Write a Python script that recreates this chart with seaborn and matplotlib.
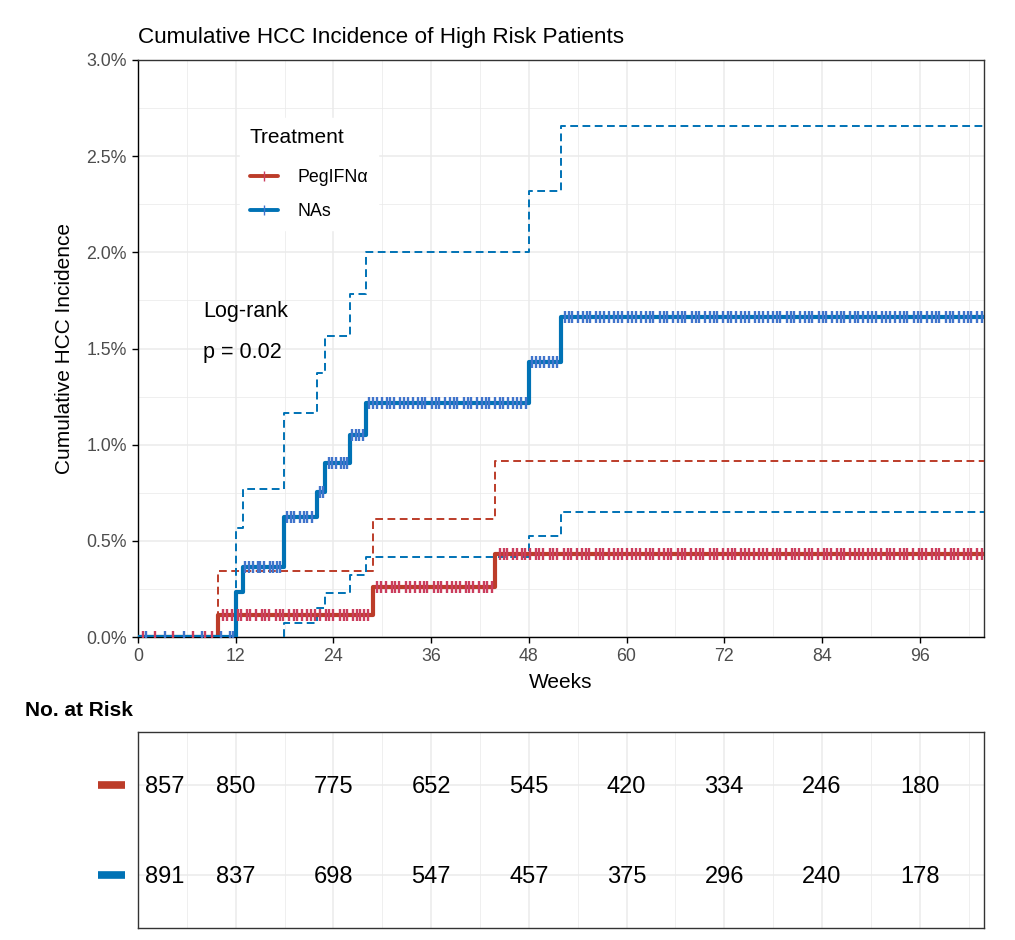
"""Cumulative HCC incidence curves with a number-at-risk table."""

import numpy as np
import pandas as pd
import matplotlib
matplotlib.use("Agg")
import matplotlib.pyplot as plt
import matplotlib.transforms as mtransforms
from matplotlib.lines import Line2D
from matplotlib.ticker import MultipleLocator, FuncFormatter
import seaborn as sns

sns.set_theme(style="white")
plt.rcParams["font.family"] = ["Liberation Sans", "DejaVu Sans"]
plt.rcParams["text.color"] = "black"
plt.rcParams["axes.labelcolor"] = "black"

# ---- data (weeks, cumulative incidence in %) ----
groups = ["PegIFNα", "NAs"]
line_colors = {"PegIFNα": "#BC3C29", "NAs": "#0072B5"}
censor_colors = {"PegIFNα": "#CB3D5D", "NAs": "#4074CC"}
max_week = 103.9

red_times = [0, 9.8, 28.8, 43.9]
red_est = [0, 0.115, 0.26, 0.43]
red_upper = [0, 0.343, 0.612, 0.915]
red_lower = [0, 0, 0, 0]

blue_times = [0, 12.0, 12.9, 17.9, 22.0, 23.0, 26.0, 28.0, 48.0, 51.9]
blue_est = [0, 0.235, 0.362, 0.625, 0.755, 0.905, 1.05, 1.215, 1.43, 1.662]
blue_upper = [0, 0.567, 0.77, 1.165, 1.373, 1.565, 1.785, 2.0, 2.32, 2.657]
blue_lower = [0, 0, 0, 0.073, 0.15, 0.23, 0.32, 0.415, 0.525, 0.65]

red_censor = [
    0.6, 2.1, 4.3, 6.7, 8.2, 9.1,
    10.4, 10.9, 11.5, 12.3, 12.7, 13.4, 13.8, 14.5, 15.2, 15.6, 16.1, 16.9, 17.4, 17.8,
    18.6, 19.1, 19.5, 20.2, 20.8, 21.3, 21.7, 22.4, 23.1, 23.5, 24.0, 24.8, 25.3, 25.7,
    26.4, 26.9, 27.3, 27.8, 28.3,
    29.4, 29.8, 30.5, 31.2, 31.6, 32.1, 32.9, 33.4, 34.0, 34.6, 35.1, 35.5, 36.3, 36.8,
    37.2, 37.9, 38.6, 39.0, 39.5, 40.3, 40.7, 41.2, 41.9, 42.5, 42.9, 43.5,
    44.4, 44.9, 45.3, 46.0, 46.6, 47.1, 47.5, 48.2, 48.9, 49.3, 49.8, 50.6, 51.0, 51.5,
    52.3, 52.8, 53.2, 53.9, 54.5, 55.0, 55.4, 56.2, 56.7, 57.1, 57.8, 58.5, 58.9, 59.4,
    60.1, 60.7, 61.2, 61.6, 62.4, 62.9, 63.3, 64.0, 64.6, 65.1, 65.5, 66.3, 66.8, 67.2,
    67.9, 68.5, 69.0, 69.4, 70.2, 70.7, 71.1, 71.8, 72.4, 72.9, 73.3, 74.1, 74.6, 75.0,
    75.7, 76.3, 76.8, 77.2, 78.0, 78.5, 78.9, 79.6, 80.3, 80.7, 81.2, 81.9, 82.4, 82.8,
    83.5, 84.2, 84.6, 85.1, 85.8, 86.3, 86.7, 87.4, 88.1, 88.5, 89.0, 89.7, 90.2, 90.6,
    91.3, 92.0, 92.4, 92.9, 93.6, 94.1, 94.5, 95.2, 95.9, 96.3, 96.8, 97.5, 98.0, 98.4,
    99.1, 99.8, 100.2, 100.7, 101.4, 101.9, 102.3, 103.0, 103.6,
]
blue_censor = [
    1.0, 3.3, 5.6, 7.9, 10.2, 11.3, 11.7,
    13.2, 13.6, 14.1, 14.7, 15.0, 15.5, 16.2, 16.6, 17.1, 17.5,
    18.3, 18.8, 19.2, 19.9, 20.4, 20.8, 21.4,
    22.3, 22.7,
    23.4, 23.8, 24.3, 24.9, 25.3, 25.7,
    26.3, 26.8, 27.2, 27.6,
    28.4, 28.9, 29.3, 30.0, 30.6, 31.0, 31.5, 32.2, 32.7, 33.1, 33.8, 34.4, 34.9, 35.3,
    36.1, 36.6, 37.0, 37.7, 38.3, 38.8, 39.2, 40.0, 40.5, 40.9, 41.6, 42.2, 42.7, 43.1,
    43.9, 44.4, 44.8, 45.5, 46.1, 46.6, 47.0, 47.6,
    48.4, 48.9, 49.4, 49.9, 50.5, 51.0, 51.5,
    52.4, 52.9, 53.3, 54.0, 54.6, 55.1, 55.5, 56.3, 56.8, 57.2, 57.9, 58.5, 59.0, 59.4,
    60.2, 60.7, 61.1, 61.8, 62.4, 62.9, 63.3, 64.1, 64.6, 65.0, 65.7, 66.3, 66.8, 67.2,
    68.0, 68.5, 68.9, 69.6, 70.2, 70.7, 71.1, 71.9, 72.4, 72.8, 73.5, 74.1, 74.6, 75.0,
    75.8, 76.3, 76.7, 77.4, 78.0, 78.5, 78.9, 79.7, 80.2, 80.6, 81.3, 81.9, 82.4, 82.8,
    83.6, 84.1, 84.5, 85.2, 85.8, 86.3, 86.7, 87.5, 88.0, 88.4, 89.1, 89.7, 90.2, 90.6,
    91.4, 91.9, 92.3, 93.0, 93.6, 94.1, 94.5, 95.3, 95.8, 96.2, 96.9, 97.5, 98.0, 98.4,
    99.2, 99.7, 100.1, 100.8, 101.4, 101.9, 102.3, 103.1, 103.6,
]

risk_weeks = [0, 12, 24, 36, 48, 60, 72, 84, 96]
red_risk = [857, 850, 775, 652, 545, 420, 334, 246, 180]
blue_risk = [891, 837, 698, 547, 457, 375, 296, 240, 178]

series = {
    "PegIFNα": (red_times, red_est, red_lower, red_upper, red_censor, red_risk),
    "NAs": (blue_times, blue_est, blue_lower, blue_upper, blue_censor, blue_risk),
}


def step_frame(times, values, trim_zeros=False):
    t = list(times) + [max_week]
    v = list(values) + [values[-1]]
    if trim_zeros:
        nz = [i for i, val in enumerate(v) if val > 0]
        if not nz:
            return None
        k = nz[0]
        t = [t[k]] + t[k:]
        v = [0] + v[k:]
    return pd.DataFrame({"week": t, "value": v})


W, H = 1015, 940
fig = plt.figure(figsize=(W / 100, H / 100), dpi=100)
ax = fig.add_axes([138 / W, 1 - 637 / H, (984 - 138) / W, (637 - 60) / H])
ax_tab = fig.add_axes([138 / W, 1 - 928 / H, (984 - 138) / W, (928 - 732) / H])

grid_kw = dict(color="#EBEBEB")
dash = (0, (4, 2.3))

# confidence bands first (dashed), then estimates, then censor marks
for g in groups:
    times, est, lower, upper, cens, _ = series[g]
    for bound, trim in ((lower, True), (upper, False)):
        df = step_frame(times, bound, trim_zeros=trim)
        if df is None:
            continue
        sns.lineplot(data=df, x="week", y="value", ax=ax,
                     color=line_colors[g], lw=1.4, linestyle=dash,
                     drawstyle="steps-post", estimator=None, sort=False, zorder=3)
for g in groups:
    times, est, lower, upper, cens, _ = series[g]
    sns.lineplot(data=step_frame(times, est), x="week", y="value", ax=ax,
                 color=line_colors[g], lw=3.0, drawstyle="steps-post",
                 estimator=None, sort=False, zorder=4)
    idx = np.searchsorted(times, cens, side="right") - 1
    cens_y = np.asarray(est)[idx]
    ax.plot(cens, cens_y, linestyle="none", marker="|", markersize=9,
            markeredgewidth=1.7, color=censor_colors[g], zorder=5)

ax.set_xlim(0, max_week)
ax.set_ylim(0, 3.0)
ax.xaxis.set_major_locator(MultipleLocator(12))
ax.xaxis.set_minor_locator(MultipleLocator(6))
ax.yaxis.set_major_locator(MultipleLocator(0.5))
ax.yaxis.set_minor_locator(MultipleLocator(0.25))
ax.yaxis.set_major_formatter(FuncFormatter(lambda v, p: f"{v:.1f}%"))
ax.grid(which="major", lw=1.1, **grid_kw)
ax.grid(which="minor", lw=0.55, **grid_kw)
ax.set_axisbelow(True)
ax.tick_params(which="major", length=4, width=1, color="black", bottom=True,
               left=True, labelsize=12.8, labelcolor="#4D4D4D", pad=4)
ax.tick_params(which="minor", length=0)
for sp in ax.spines.values():
    sp.set_color("#333333")
    sp.set_linewidth(1.0)
ax.spines["left"].set_color("black")
ax.spines["bottom"].set_color("black")
ax.set_xlabel("Weeks", fontsize=15, labelpad=6)
ax.set_ylabel("Cumulative HCC Incidence", fontsize=15, labelpad=9)

ax.text(8.0, 1.69, "Log-rank", fontsize=15.5, va="center", ha="left")
ax.text(8.0, 1.48, "p = 0.02", fontsize=15.5, va="center", ha="left")

handles = [
    Line2D([0], [0], color=line_colors[g], lw=2.8, marker="|", markersize=7,
           markeredgewidth=1.0, markeredgecolor=censor_colors[g])
    for g in groups
]
leg = ax.legend(handles, groups, title="Treatment", loc="upper left",
                bbox_to_anchor=(240 / W, 1 - 118 / H), bbox_transform=fig.transFigure,
                fontsize=12.8, title_fontsize=15, frameon=True, fancybox=False,
                framealpha=1, facecolor="white", edgecolor="white",
                handlelength=1.6, handletextpad=1.1, labelspacing=0.95,
                borderpad=0.55, borderaxespad=0)
leg._legend_box.align = "left"
leg._legend_box.sep = 16
leg.set_zorder(6)

fig.text(138 / W, 1 - 37 / H, "Cumulative HCC Incidence of High Risk Patients",
         fontsize=16.2, va="center", ha="left")

# ---- risk table ----
rows = {"PegIFNα": 2, "NAs": 1}
ax_tab.set_xlim(0, max_week)
ax_tab.set_ylim(0.4, 2.6)
ax_tab.xaxis.set_major_locator(MultipleLocator(12))
ax_tab.xaxis.set_minor_locator(MultipleLocator(6))
ax_tab.set_yticks([1, 2])
ax_tab.grid(which="major", lw=1.1, **grid_kw)
ax_tab.grid(which="minor", axis="x", lw=0.55, **grid_kw)
ax_tab.set_axisbelow(True)
ax_tab.tick_params(which="both", length=0, labelleft=False, labelbottom=False)
for sp in ax_tab.spines.values():
    sp.set_color("#333333")
    sp.set_linewidth(1.0)

first_col = mtransforms.offset_copy(ax_tab.transData, fig=fig, x=7, y=-2, units="dots")
other_col = mtransforms.offset_copy(ax_tab.transData, fig=fig, x=0, y=-2, units="dots")
bar_tf = mtransforms.blended_transform_factory(ax_tab.transAxes, ax_tab.transData)
for g in groups:
    counts = series[g][5]
    y = rows[g]
    for wk, n in zip(risk_weeks, counts):
        if wk == risk_weeks[0]:
            ax_tab.text(wk, y, str(n), fontsize=17, ha="left", va="center",
                        transform=first_col)
        else:
            ax_tab.text(wk, y, str(n), fontsize=17, ha="center", va="center",
                        transform=other_col)
    ax_tab.plot([-40 / 846, -13 / 846], [y, y], color=line_colors[g], lw=5.5,
                solid_capstyle="butt", transform=bar_tf, clip_on=False)

fig.text(25 / W, 1 - 711 / H, "No. at Risk", fontsize=15, fontweight="bold",
         va="center", ha="left")

fig.savefig("out.png", dpi=100)
plt.close(fig)
